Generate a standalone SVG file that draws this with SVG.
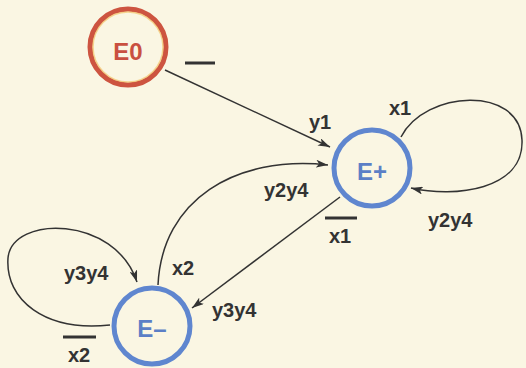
<svg xmlns="http://www.w3.org/2000/svg" width="526" height="368" viewBox="0 0 526 368">
<defs>
<style>
.lbl{font-family:"Liberation Sans",Arial,sans-serif;font-weight:bold;font-size:20px;fill:#333;}
.st{font-family:"Liberation Sans",Arial,sans-serif;font-weight:bold;font-size:24px;text-anchor:middle;}
.edge{fill:none;stroke:#333;stroke-width:1.5;}
.bar{stroke:#333;stroke-width:3;}
.blue{fill:none;stroke:#5f86cf;stroke-width:5;}
</style>
<marker id="arr" viewBox="0 0 12 8" refX="12" refY="4" markerWidth="12" markerHeight="8" markerUnits="userSpaceOnUse" orient="auto">
<path d="M0,0 L12,4 L0,8 L3,4 Z" fill="#333"/>
</marker>
</defs>
<rect width="526" height="368" fill="#faf6e3"/>
<g id="connectors">
<path class="edge" d="M165,70 L330,147" marker-end="url(#arr)"/>
<path class="edge" d="M401,137 C425,90 520,85 522,140 C524,190 455,198 411,188" marker-end="url(#arr)"/>
<path class="edge" d="M340,197 L192,308" marker-end="url(#arr)"/>
<path class="edge" d="M158,285 C162,200 235,155 328,165" marker-end="url(#arr)"/>
<path class="edge" d="M110,325 C45,332 5,300 8,258 C12,215 115,215 137,282" marker-end="url(#arr)"/>
</g>
<g id="E0">
<circle cx="128" cy="47" r="38" fill="none" stroke="#cd5440" stroke-width="5"/>
<circle cx="128" cy="47" r="35" fill="none" stroke="#f2c46a" stroke-width="1.5" opacity="0.7"/>
<text class="st" x="128" y="60" fill="#c95040">E0</text>
</g>
<g id="Eplus">
<circle class="blue" cx="372" cy="168" r="38"/>
<text class="st" x="372" y="180" fill="#5b7fc6">E+</text>
</g>
<g id="Eminus">
<circle class="blue" cx="152" cy="326" r="38"/>
<text class="st" x="152" y="337" fill="#5b7fc6">E–</text>
</g>
<g id="labels">
<line class="bar" x1="185" y1="63" x2="215" y2="63"/>
<text class="lbl" x="309" y="129">y1</text>
<text class="lbl" x="389" y="115">x1</text>
<text class="lbl" x="264" y="197">y2y4</text>
<line class="bar" x1="325" y1="218" x2="357" y2="218"/>
<text class="lbl" x="329" y="243">x1</text>
<text class="lbl" x="428" y="227">y2y4</text>
<text class="lbl" x="172" y="275">x2</text>
<text class="lbl" x="64" y="280">y3y4</text>
<text class="lbl" x="212" y="317">y3y4</text>
<line class="bar" x1="63" y1="337" x2="96" y2="337"/>
<text class="lbl" x="68" y="362">x2</text>
</g>
</svg>
